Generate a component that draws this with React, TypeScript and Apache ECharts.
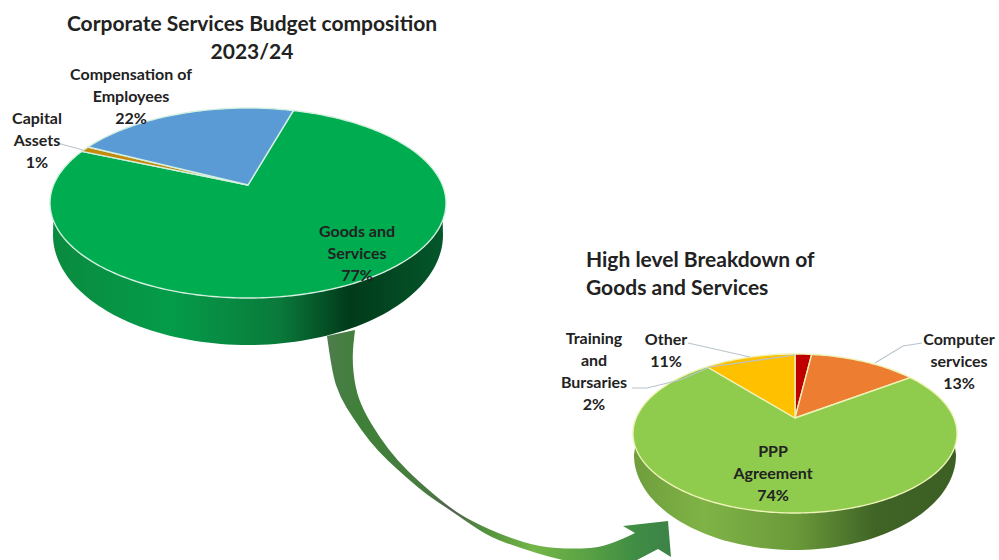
import React, { useEffect, useRef } from "react";
import * as echarts from "echarts";

// Budget composition (clockwise from the first slice angle)
const budgetCategories = ["Goods and Services", "Capital Assets", "Compensation of Employees"];
const budgetValues = [77, 1, 22];
const budgetColors = ["#00ac50", "#c48a0c", "#5b9bd5"];

// Breakdown of goods and services
const goodsCategories = ["Training and Bursaries", "Computer services", "PPP Agreement", "Other"];
const goodsValues = [2, 13, 74, 11];
const goodsColors = ["#c00000", "#ed7d31", "#8fcb4c", "#ffc000"];

const FONT = "Lato, Carlito, 'Open Sans', sans-serif";
const TEXT = "#222222";

type Pie = {
  values: number[];
  names: string[];
  colors: string[];
  startAngle: number;
  apex: [number, number];
  rx: number;
  top: number;
  bottom: number;
  edge: string;
  wall: { cy: number; rx: number; ry: number; stops: [number, string][] };
};

const budgetPie: Pie = {
  values: budgetValues,
  names: budgetCategories,
  colors: budgetColors,
  startAngle: 16,
  apex: [248, 185],
  rx: 198,
  top: 108,
  bottom: 298,
  edge: "#d4f0e0",
  wall: {
    cy: 235,
    rx: 195,
    ry: 110,
    stops: [
      [0, "#0a8a3f"],
      [0.3, "#049c49"],
      [0.58, "#0a7a3b"],
      [0.76, "#013a1a"],
      [1, "#04572a"],
    ],
  },
};

const goodsPie: Pie = {
  values: goodsValues,
  names: goodsCategories,
  colors: goodsColors,
  startAngle: 0,
  apex: [795, 418],
  rx: 162,
  top: 354,
  bottom: 513,
  edge: "#eef3b8",
  wall: {
    cy: 455,
    rx: 161,
    ry: 95,
    stops: [
      [0, "#6f9e3c"],
      [0.22, "#7fb346"],
      [0.5, "#6b9a3a"],
      [0.75, "#3f6426"],
      [1, "#3c5f24"],
    ],
  },
};

// Perspective projection of a tilted disc: the centre lands on the apex,
// which sits above the middle of the visible ellipse.
function projector(pie: Pie) {
  const t = pie.apex[1] - pie.top;
  const s = pie.bottom - pie.apex[1];
  const c = (t - s) / (t + s);
  const a = s * (1 + c);
  const d = pie.rx * Math.sqrt(1 - c * c);
  return (deg: number): [number, number] => {
    const r = (deg * Math.PI) / 180;
    const u = Math.sin(r);
    const v = -Math.cos(r);
    const k = 1 + c * v;
    return [pie.apex[0] + (d * u) / k, pie.apex[1] + (a * v) / k];
  };
}

function sliceSpans(pie: Pie) {
  const total = pie.values.reduce((x, y) => x + y, 0);
  let from = pie.startAngle;
  return pie.values.map((v) => {
    const span = { from, to: from + (v / total) * 360 };
    from = span.to;
    return span;
  });
}

function pieSeries(pie: Pie) {
  const project = projector(pie);
  const spans = sliceSpans(pie);
  const half = pie.rx * Math.sqrt(1 - Math.pow((pie.apex[1] * 2 - pie.top - pie.bottom) / (pie.bottom - pie.top), 2));
  return {
    type: "custom",
    coordinateSystem: "none",
    silent: true,
    data: pie.values.map((v, i) => ({ name: pie.names[i], value: [v, i] })),
    renderItem: (_params: unknown, api: any) => {
      const i = api.value(1);
      const { from, to } = spans[i];
      const points: [number, number][] = [pie.apex];
      const steps = Math.max(2, Math.ceil(to - from));
      for (let n = 0; n <= steps; n++) points.push(project(from + ((to - from) * n) / steps));
      const children: any[] = [];
      // The side wall belongs to whichever slice faces the viewer.
      if (from <= 180 && to > 180) {
        const w = pie.wall;
        const wallPoints: [number, number][] = [];
        for (let deg = 0; deg <= 180; deg += 2) {
          const r = (deg * Math.PI) / 180;
          wallPoints.push([pie.apex[0] + w.rx * Math.cos(r), w.cy + w.ry * Math.sin(r)]);
        }
        const midY = (pie.top + pie.bottom) / 2;
        wallPoints.push([pie.apex[0] - half, midY + 6], [pie.apex[0] + half, midY + 6]);
        children.push({
          type: "polygon",
          z2: 0,
          shape: { points: wallPoints },
          style: {
            fill: new echarts.graphic.LinearGradient(
              0,
              0,
              1,
              0,
              w.stops.map(([offset, color]) => ({ offset, color }))
            ),
          },
        });
      }
      children.push({
        type: "polygon",
        z2: 1,
        shape: { points },
        style: { fill: pie.colors[i], stroke: pie.edge, lineWidth: 1.4, lineJoin: "round" },
      });
      return { type: "group", children };
    },
  };
}

// Curved arrow linking the two pies: outer edge, head, then inner edge back up
const arrowOuter: [number, number][] = [
  [327, 336], [332, 373], [340, 397], [353, 418], [370, 442], [387, 460], [407, 478],
  [427, 495], [450, 510], [467, 522], [490, 537], [520, 548], [553, 558], [590, 566], [615, 565],
];
const arrowHead: [number, number][] = [[637, 560], [658, 549], [671, 557], [668, 521], [623, 526], [635, 533]];
const arrowInner: [number, number][] = [
  [607, 547], [573, 549], [540, 547], [507, 537], [473, 522], [450, 508], [417, 480],
  [397, 460], [380, 438], [363, 410], [355, 387], [352, 357], [355, 330],
];

// Smooths a run of points with quadratics through their midpoints.
function smoothRun(pts: [number, number][]) {
  let d = "";
  for (let i = 1; i < pts.length - 1; i++) {
    const mx = (pts[i][0] + pts[i + 1][0]) / 2;
    const my = (pts[i][1] + pts[i + 1][1]) / 2;
    d += `Q${pts[i][0]} ${pts[i][1]} ${mx} ${my} `;
  }
  const last = pts[pts.length - 1];
  return d + `L${last[0]} ${last[1]} `;
}

const ARROW_PATH =
  `M${arrowOuter[0][0]} ${arrowOuter[0][1]} ` +
  smoothRun(arrowOuter) +
  arrowHead.map((p) => `L${p[0]} ${p[1]} `).join("") +
  smoothRun([arrowHead[arrowHead.length - 1], ...arrowInner]) +
  "Z";
echarts.graphic.registerShape("linkArrow", echarts.graphic.extendPath(ARROW_PATH, {}));

type Label = { text: string; x: number; y: number; size?: number; align?: string };

const chartLabels: Label[] = [
  { text: "Corporate Services Budget composition\n2023/24", x: 252, y: 36, size: 21 },
  { text: "High level Breakdown of\nGoods and Services", x: 586, y: 272, size: 21, align: "left" },
  { text: "Compensation of\nEmployees\n22%", x: 131, y: 95 },
  { text: "Capital\nAssets\n1%", x: 37, y: 139 },
  { text: "Goods and\nServices\n77%", x: 357, y: 252 },
  { text: "Training\nand\nBursaries\n2%", x: 594, y: 370.5 },
  { text: "Other\n11%", x: 666, y: 349 },
  { text: "Computer\nservices\n13%", x: 959, y: 360 },
  { text: "PPP\nAgreement\n74%", x: 773, y: 472 },
];

const leaderLines: [number, number][][] = [
  [[57, 143], [83, 150]],
  [[632, 388], [647, 388], [680, 380], [710, 367], [795, 355]],
  [[688, 343], [750, 357]],
  [[922, 343], [903, 346], [875, 363]],
];

export default function App() {
  const ref = useRef<HTMLDivElement>(null);
  useEffect(() => {
    const chart = echarts.init(ref.current!, undefined, { renderer: "svg" });
    chart.setOption({
      animation: false,
      backgroundColor: "#ffffff",
      series: [pieSeries(budgetPie), pieSeries(goodsPie)],
      graphic: [
        {
          type: "linkArrow",
          z: 0,
          silent: true,
          style: {
            fill: new echarts.graphic.LinearGradient(0, 0, 1, 0, [
              { offset: 0, color: "#4d7c4c" },
              { offset: 0.1, color: "#3f8038" },
              { offset: 0.3, color: "#4a7a42" },
              { offset: 0.36, color: "#555f50" },
              { offset: 0.45, color: "#4f8f3c" },
              { offset: 0.6, color: "#74b648" },
              { offset: 0.75, color: "#5aa244" },
              { offset: 0.9, color: "#3f8c44" },
              { offset: 1, color: "#3d8348" },
            ]),
          },
        },
        ...leaderLines.map((points) => ({
          type: "polyline",
          z: 9,
          silent: true,
          shape: { points },
          style: { fill: "none", stroke: "#b9c4cb", lineWidth: 1.1 },
        })),
        ...chartLabels.map((l) => ({
          type: "text",
          z: 10,
          silent: true,
          x: l.x,
          y: l.y,
          style: {
            text: l.text,
            fill: TEXT,
            font: `bold ${l.size ?? 16}px ${FONT}`,
            lineHeight: l.size ? 28 : 22,
            align: l.align ?? "center",
            verticalAlign: "middle",
          },
        })),
      ],
    });
    return () => chart.dispose();
  }, []);
  return (
    <div
      ref={ref}
      style={{ position: "absolute", left: 0, top: 0, width: 999, height: 560, overflow: "hidden" }}
    />
  );
}
